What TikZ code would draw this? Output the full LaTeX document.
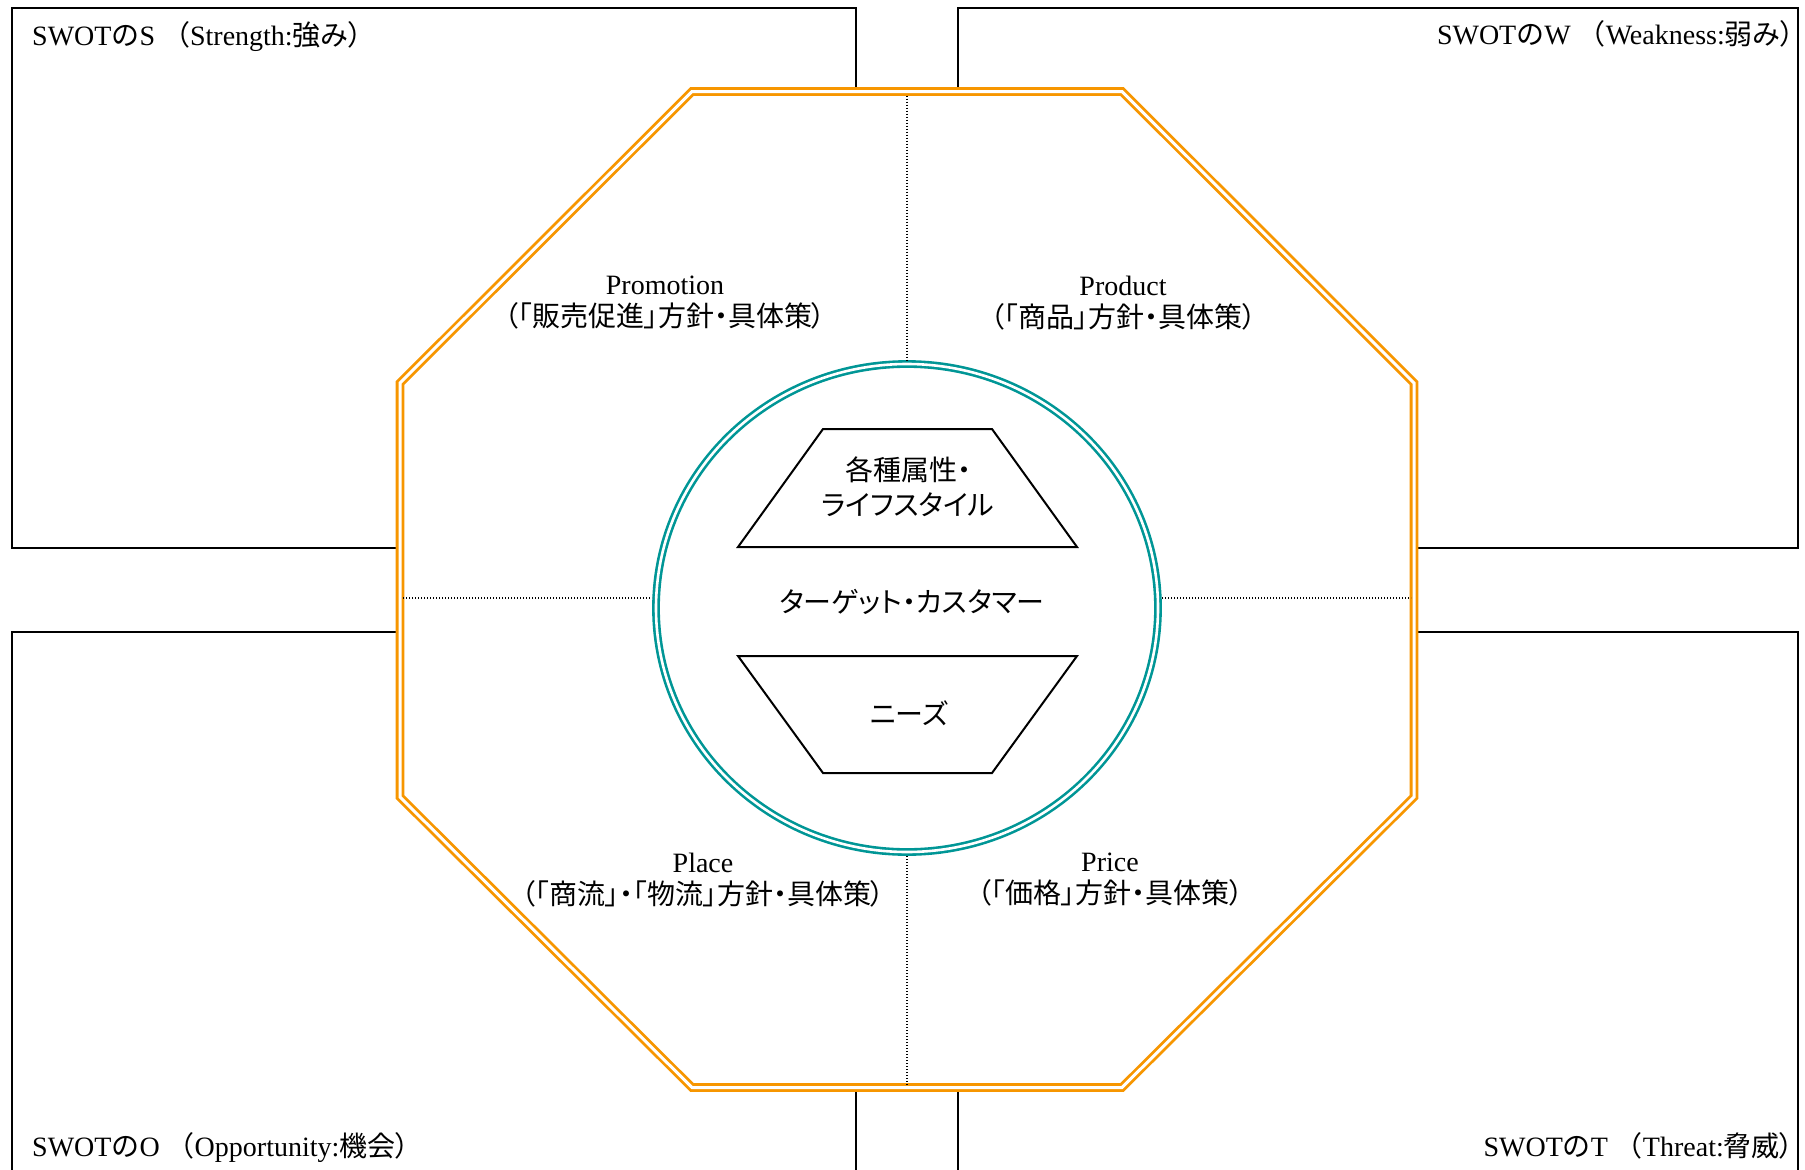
\documentclass[tikz,border=0pt]{standalone}
\usepackage{fontspec}
\setmainfont{Liberation Serif}
\newfontfamily\jpfont[RawFeature=+palt]{Noto Sans CJK JP}
\newfontfamily\jpfull{Noto Sans CJK JP}
\newcommand\JP[1]{{\jpfont #1}}
\newcommand\JF[1]{{\jpfull #1}}
\usetikzlibrary{shapes.geometric}
\definecolor{octorange}{RGB}{247,150,0}
\definecolor{circteal}{RGB}{0,150,150}
\begin{document}
\begin{tikzpicture}[x=1pt,y=-1pt,
  box/.style={draw=black,line width=1.7pt},
  octline/.style={draw=octorange,line width=2.8pt,double=white,double distance=3pt,line join=miter},
  circline/.style={draw=circteal,line width=2.6pt,double=white,double distance=2.6pt},
  divider/.style={draw=black,line width=1.3pt,dash pattern=on 1.3pt off 1.7pt},
  trap/.style={draw=black,line width=2pt,line join=miter,fill=white},
  lbl/.style={font=\fontsize{28}{32}\selectfont,inner sep=0pt,align=center},
  head/.style={font=\fontsize{28}{32}\selectfont,inner sep=0pt},
]
\useasboundingbox (0,0) rectangle (1805,1170);
\clip (0,0) rectangle (1805,1170);

% SWOT boxes
\draw[box] (12,8) rectangle (856,548);
\draw[box] (958,8) rectangle (1798,548);
\draw[box] (12,632) rectangle (856,1220);
\draw[box] (958,632) rectangle (1798,1220);

% octagon
\coordinate (o1) at (692,91.5);
\coordinate (o2) at (1122,91.5);
\coordinate (o3) at (1414,383);
\coordinate (o4) at (1414,797);
\coordinate (o5) at (1122,1087.5);
\coordinate (o6) at (692,1087.5);
\coordinate (o7) at (400,797);
\coordinate (o8) at (400,383);
\draw[octline,fill=white] (o1) -- (o2) -- (o3) -- (o4) -- (o5) -- (o6) -- (o7) -- (o8) -- cycle;

% circle
\node[ellipse,circline,fill=white,minimum width=502pt,minimum height=488pt,inner sep=0pt,outer sep=4pt] (cust) at (907,608) {};

% dividers
\coordinate (octTopIn) at (907,95.5);
\coordinate (octBotIn) at (907,1086);
\coordinate (octLeftIn) at (403,598);
\coordinate (octRightIn) at (1411,598);
\draw[divider] (octTopIn) -- (cust.north);
\draw[divider] (cust.south) -- (octBotIn);
\draw[divider] (octLeftIn) -- (octLeftIn -| cust.west);
\draw[divider] (octRightIn -| cust.east) -- (octRightIn);

% trapezoids
\draw[trap] (823,429) -- (992,429) -- (1077,547) -- (738,547) -- cycle;
\draw[trap] (738,656) -- (1077,656) -- (992,773) -- (823,773) -- cycle;

% centre texts
\node[lbl,font=\fontsize{28}{35}\selectfont] (attr) at (908,487) {\JP{各種属性・}\\\JP{ライフスタイル}};
\node[lbl] (target) at (912,602) {\JP{ターゲット・カスタマー}};
\node[lbl] (needs) at (909,713) {\JP{ニーズ}};

% 4P labels
\node[lbl] (promotion) at (665,303) {Promotion\\\JP{（「販売促進」方針・具体策）}};
\node[lbl] (product) at (1123,303) {Product\\\JP{（「商品」方針・具体策）}};
\node[lbl] (place) at (703,880) {Place\\\JP{（「商流」・「物流」方針・具体策）}};
\node[lbl] (price) at (1110,880) {Price\\\JP{（「価格」方針・具体策）}};

% SWOT headings
\node[head,anchor=base west] (hS) at (32,45) {SWOT\JF{の}S \JF{（}Strength:\JF{強み}\JP{）}};
\node[head,anchor=base east] (hW) at (1795,44) {SWOT\JF{の}W \JF{（}Weakness:\JF{弱み}\JP{）}};
\node[head,anchor=base west] (hO) at (32,1156) {SWOT\JF{の}O \JF{（}Opportunity:\JF{機会}\JP{）}};
\node[head,anchor=base east] (hT) at (1794,1156) {SWOT\JF{の}T \JF{（}Threat:\JF{脅威}\JP{）}};
\end{tikzpicture}
\end{document}
